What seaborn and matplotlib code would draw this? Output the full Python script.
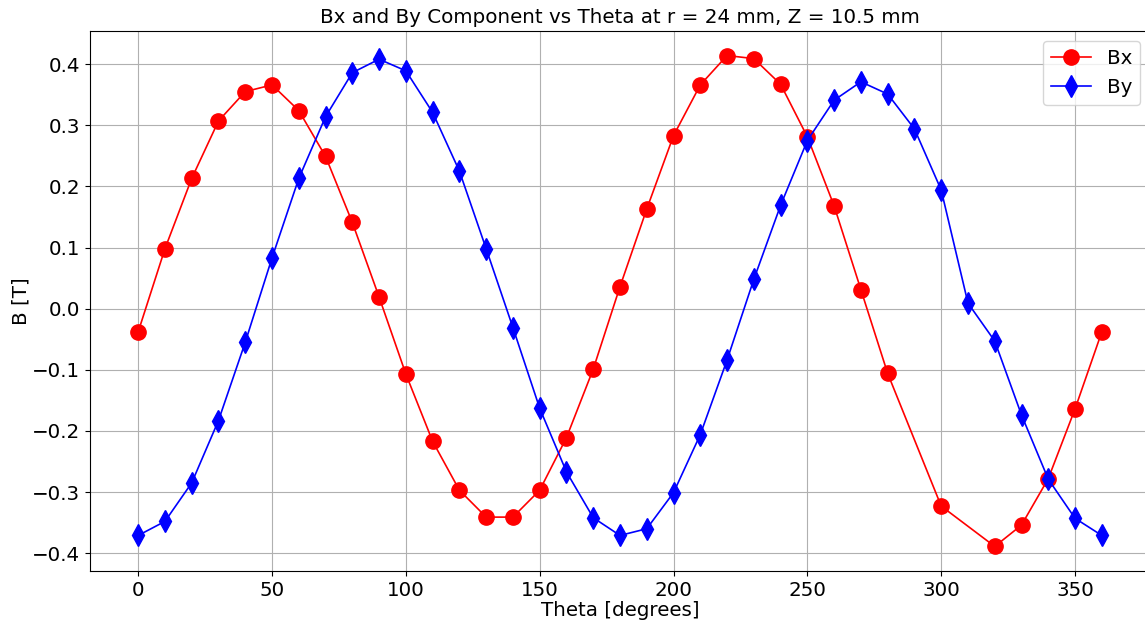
import matplotlib
matplotlib.use("Agg")
import matplotlib.pyplot as plt
import seaborn as sns
import pandas as pd

# Angular positions (degrees)
theta_by = [0, 10, 20, 30, 40, 50, 60, 70, 80, 90, 100, 110, 120, 130, 140, 150,
            160, 170, 180, 190, 200, 210, 220, 230, 240, 250, 260, 270, 280, 290,
            300, 310, 320, 330, 340, 350, 360]
theta_bx = [0, 10, 20, 30, 40, 50, 60, 70, 80, 90, 100, 110, 120, 130, 140, 150,
            160, 170, 180, 190, 200, 210, 220, 230, 240, 250, 260, 270, 280,
            300, 320, 330, 340, 350, 360]

# Field components [T]
bx = [-0.038, 0.098, 0.213, 0.307, 0.355, 0.366, 0.324, 0.249, 0.141, 0.019,
      -0.107, -0.217, -0.297, -0.341, -0.341, -0.297, -0.211, -0.099, 0.036,
      0.163, 0.283, 0.366, 0.414, 0.409, 0.367, 0.281, 0.168, 0.031, -0.106,
      -0.323, -0.389, -0.354, -0.278, -0.164, -0.038]
by = [-0.371, -0.348, -0.285, -0.183, -0.055, 0.083, 0.213, 0.314, 0.386, 0.408,
      0.389, 0.321, 0.225, 0.098, -0.031, -0.163, -0.267, -0.342, -0.371, -0.360,
      -0.301, -0.206, -0.084, 0.048, 0.169, 0.275, 0.341, 0.371, 0.351, 0.294,
      0.194, 0.009, -0.053, -0.174, -0.279, -0.343, -0.371]

df_bx = pd.DataFrame({"theta": theta_bx, "B": bx})
df_by = pd.DataFrame({"theta": theta_by, "B": by})

fs = 14.3
fig = plt.figure(figsize=(11.45, 6.23), dpi=100)
ax = fig.add_axes([90 / 1145, 1 - 571 / 623, (1150 - 90) / 1145, (571 - 31) / 623])

sns.lineplot(data=df_bx, x="theta", y="B", ax=ax, color="red", marker="o",
             markersize=11, markeredgecolor="red", markeredgewidth=1,
             linewidth=1.2, label="Bx", errorbar=None)
sns.lineplot(data=df_by, x="theta", y="B", ax=ax, color="blue", marker="d",
             markersize=11, markeredgecolor="blue", markeredgewidth=1,
             linewidth=1.2, label="By", errorbar=None)

ax.margins(x=0.05, y=0.05)
ax.grid(True, color="#b0b0b0", linewidth=0.8)
ax.set_axisbelow(True)
ax.set_title("Bx and By Component vs Theta at r = 24 mm, Z = 10.5 mm", fontsize=fs)
ax.set_xlabel("Theta [degrees]", fontsize=fs, labelpad=1)
ax.set_ylabel("B [T]", fontsize=fs, labelpad=1)
ax.tick_params(labelsize=fs)
ax.legend(loc="upper right", fontsize=fs)

fig.savefig("out.png", dpi=100)
